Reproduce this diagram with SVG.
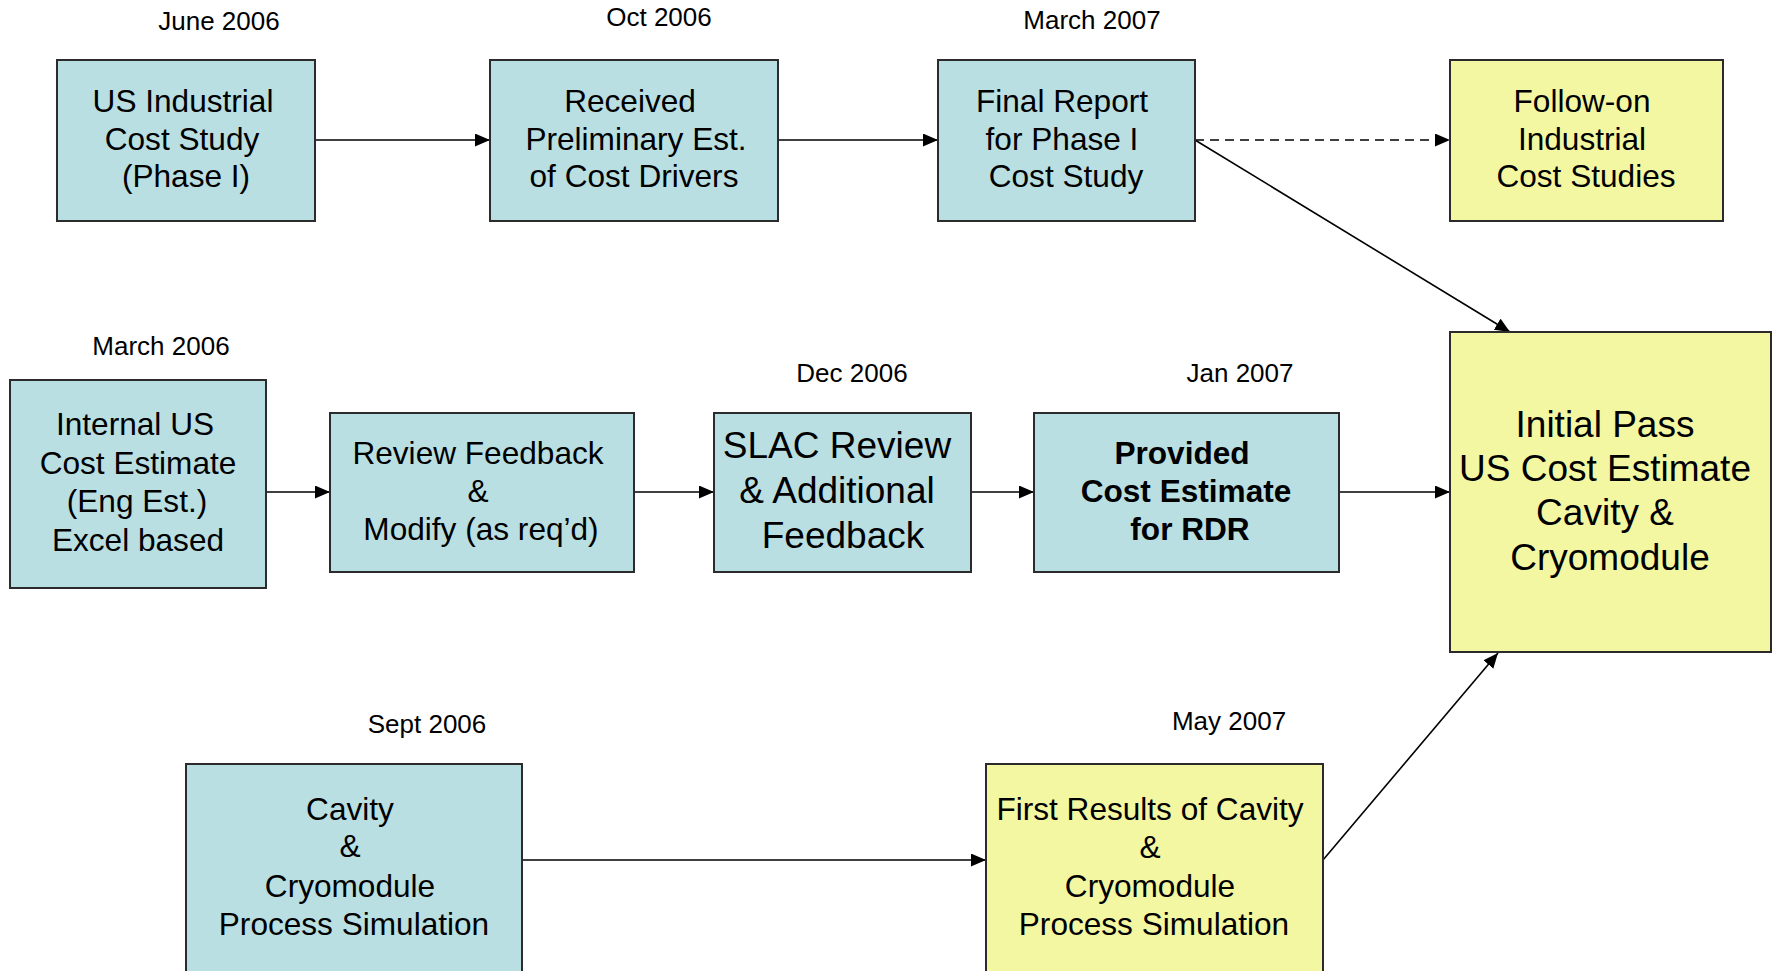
<svg xmlns="http://www.w3.org/2000/svg" width="1774" height="971" viewBox="0 0 1774 971">
  <defs>
    <marker id="arrow" markerUnits="userSpaceOnUse" markerWidth="16" markerHeight="14" refX="15" refY="6.5" orient="auto">
      <path d="M0,0 L15,6.5 L0,13 z" fill="#000"/>
    </marker>
    <style>
      .teal { fill: #b9dfe2; stroke: #2b2b2b; stroke-width: 2; }
      .yellow { fill: #f3f7a2; stroke: #2b2b2b; stroke-width: 2; }
      .lbl { font-family: "Liberation Sans", Arial, sans-serif; font-size: 31.6px; fill: #000; text-anchor: middle; }
      .big { font-size: 37px; }
      .bold { font-weight: bold; }
      .date { font-family: "Liberation Sans", Arial, sans-serif; font-size: 26px; fill: #000; text-anchor: middle; }
      .conn { stroke: #000; stroke-width: 1.6; fill: none; marker-end: url(#arrow); }
      .dash { stroke-dasharray: 9 6; }
    </style>
  </defs>
  <rect width="1774" height="971" fill="#ffffff"/>

  <!-- milestone dates -->
  <g id="dates">
    <text class="date" x="219" y="30">June 2006</text>
    <text class="date" x="659" y="26">Oct 2006</text>
    <text class="date" x="1092" y="29">March 2007</text>
    <text class="date" x="161" y="355">March 2006</text>
    <text class="date" x="852" y="382">Dec 2006</text>
    <text class="date" x="1240" y="382">Jan 2007</text>
    <text class="date" x="427" y="733">Sept 2006</text>
    <text class="date" x="1229" y="730">May 2007</text>
  </g>

  <!-- connectors -->
  <g id="connectors">
    <line class="conn" x1="315" y1="140" x2="490" y2="140"/>
    <line class="conn" x1="778" y1="140" x2="938" y2="140"/>
    <line class="conn dash" x1="1195" y1="140" x2="1450" y2="140"/>
    <line class="conn" x1="1195" y1="140" x2="1510" y2="332"/>
    <line class="conn" x1="266" y1="492" x2="330" y2="492"/>
    <line class="conn" x1="634" y1="492" x2="714" y2="492"/>
    <line class="conn" x1="971" y1="492" x2="1034" y2="492"/>
    <line class="conn" x1="1339" y1="492" x2="1450" y2="492"/>
    <line class="conn" x1="522" y1="860" x2="986" y2="860"/>
    <line class="conn" x1="1323" y1="860" x2="1498" y2="653"/>
  </g>

  <g id="us-industrial">
    <rect class="teal" x="57" y="60" width="258" height="161"/>
    <text class="lbl" x="183" y="112">US Industrial</text>
    <text class="lbl" x="182" y="149.5">Cost Study</text>
    <text class="lbl" x="186" y="187">(Phase I)</text>
  </g>

  <g id="received-prelim">
    <rect class="teal" x="490" y="60" width="288" height="161"/>
    <text class="lbl" x="630" y="112">Received</text>
    <text class="lbl" x="636" y="149.5">Preliminary Est.</text>
    <text class="lbl" x="634" y="187">of Cost Drivers</text>
  </g>

  <g id="final-report">
    <rect class="teal" x="938" y="60" width="257" height="161"/>
    <text class="lbl" x="1062" y="112">Final Report</text>
    <text class="lbl" x="1062" y="149.5">for Phase I</text>
    <text class="lbl" x="1066" y="187">Cost Study</text>
  </g>

  <g id="follow-on">
    <rect class="yellow" x="1450" y="60" width="273" height="161"/>
    <text class="lbl" x="1582" y="112">Follow-on</text>
    <text class="lbl" x="1582" y="149.5">Industrial</text>
    <text class="lbl" x="1586" y="187">Cost Studies</text>
  </g>

  <g id="internal-estimate">
    <rect class="teal" x="10" y="380" width="256" height="208"/>
    <text class="lbl" x="135" y="435">Internal US</text>
    <text class="lbl" x="138" y="473.5">Cost Estimate</text>
    <text class="lbl" x="137" y="512">(Eng Est.)</text>
    <text class="lbl" x="138" y="550.5">Excel based</text>
  </g>

  <g id="review-feedback">
    <rect class="teal" x="330" y="413" width="304" height="159"/>
    <text class="lbl" x="478" y="463.5">Review Feedback</text>
    <text class="lbl" x="478" y="501.5">&amp;</text>
    <text class="lbl" x="481" y="540">Modify (as req’d)</text>
  </g>

  <g id="slac-review">
    <rect class="teal" x="714" y="413" width="257" height="159"/>
    <text class="lbl big" x="837" y="458">SLAC Review</text>
    <text class="lbl big" x="837" y="503">&amp; Additional</text>
    <text class="lbl big" x="843" y="548">Feedback</text>
  </g>

  <g id="provided-estimate">
    <rect class="teal" x="1034" y="413" width="305" height="159"/>
    <text class="lbl bold" x="1182" y="463.5">Provided</text>
    <text class="lbl bold" x="1186" y="501.5">Cost Estimate</text>
    <text class="lbl bold" x="1190" y="540">for RDR</text>
  </g>

  <g id="initial-pass">
    <rect class="yellow" x="1450" y="332" width="321" height="320"/>
    <text class="lbl big" x="1605" y="437">Initial Pass</text>
    <text class="lbl big" x="1605" y="481">US Cost Estimate</text>
    <text class="lbl big" x="1605" y="525">Cavity &amp;</text>
    <text class="lbl big" x="1610" y="570">Cryomodule</text>
  </g>

  <g id="process-simulation">
    <rect class="teal" x="186" y="764" width="336" height="220"/>
    <text class="lbl" x="350" y="820">Cavity</text>
    <text class="lbl" x="350" y="857">&amp;</text>
    <text class="lbl" x="350" y="897">Cryomodule</text>
    <text class="lbl" x="354" y="935">Process Simulation</text>
  </g>

  <g id="first-results">
    <rect class="yellow" x="986" y="764" width="337" height="220"/>
    <text class="lbl" x="1150" y="820">First Results of Cavity</text>
    <text class="lbl" x="1150" y="858">&amp;</text>
    <text class="lbl" x="1150" y="897">Cryomodule</text>
    <text class="lbl" x="1154" y="935">Process Simulation</text>
  </g>
</svg>
